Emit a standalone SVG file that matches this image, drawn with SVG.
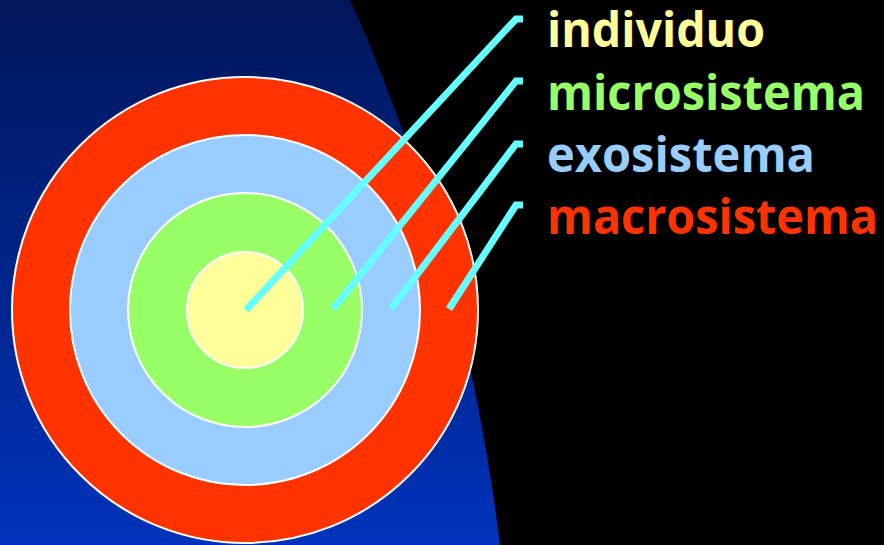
<svg xmlns="http://www.w3.org/2000/svg" width="884" height="545" viewBox="0 0 884 545">
<defs>
<linearGradient id="bg" x1="0" y1="0" x2="0" y2="1">
<stop offset="0" stop-color="#001659"/>
<stop offset="1" stop-color="#0033BB"/>
</linearGradient>
<style>
.ring{stroke:#FFFFFF;stroke-width:2}
.lead{fill:none;stroke:#66FFFF;stroke-width:7;stroke-linejoin:miter}
.lbl{font-family:"Open Sans","DejaVu Sans",sans-serif;font-weight:bold;font-size:48px}
</style>
</defs>
<rect width="884" height="545" fill="#000000"/>
<path d="M0,0 L350,0 C400,110 470,300 500,545 L0,545 Z" fill="url(#bg)"/>
<g id="macrosistema-ring"><circle class="ring" cx="245" cy="310" r="233" fill="#FF3300"/></g>
<g id="exosistema-ring"><circle class="ring" cx="245" cy="310" r="175" fill="#99CCFF"/></g>
<g id="microsistema-ring"><circle class="ring" cx="245" cy="310" r="117" fill="#99FF66"/></g>
<g id="individuo-ring"><circle class="ring" cx="245" cy="310" r="58" fill="#FFFF99"/></g>
<g id="connectors">
<polyline class="lead" points="246,310 516,19 523,19"/>
<polyline class="lead" points="333,309 516,81 523,81"/>
<polyline class="lead" points="391,309 516,144 523,144"/>
<polyline class="lead" points="449,309 516,205 523,205"/>
</g>
<g id="label-individuo"><text class="lbl" x="547" y="47" fill="#FFFF99" textLength="218" lengthAdjust="spacingAndGlyphs">individuo</text></g>
<g id="label-microsistema"><text class="lbl" x="547" y="110" fill="#99FF66" textLength="318" lengthAdjust="spacingAndGlyphs">microsistema</text></g>
<g id="label-exosistema"><text class="lbl" x="547" y="172" fill="#99CCFF" textLength="268" lengthAdjust="spacingAndGlyphs">exosistema</text></g>
<g id="label-macrosistema"><text class="lbl" x="547" y="234" fill="#FF3300" textLength="331" lengthAdjust="spacingAndGlyphs">macrosistema</text></g>
</svg>
